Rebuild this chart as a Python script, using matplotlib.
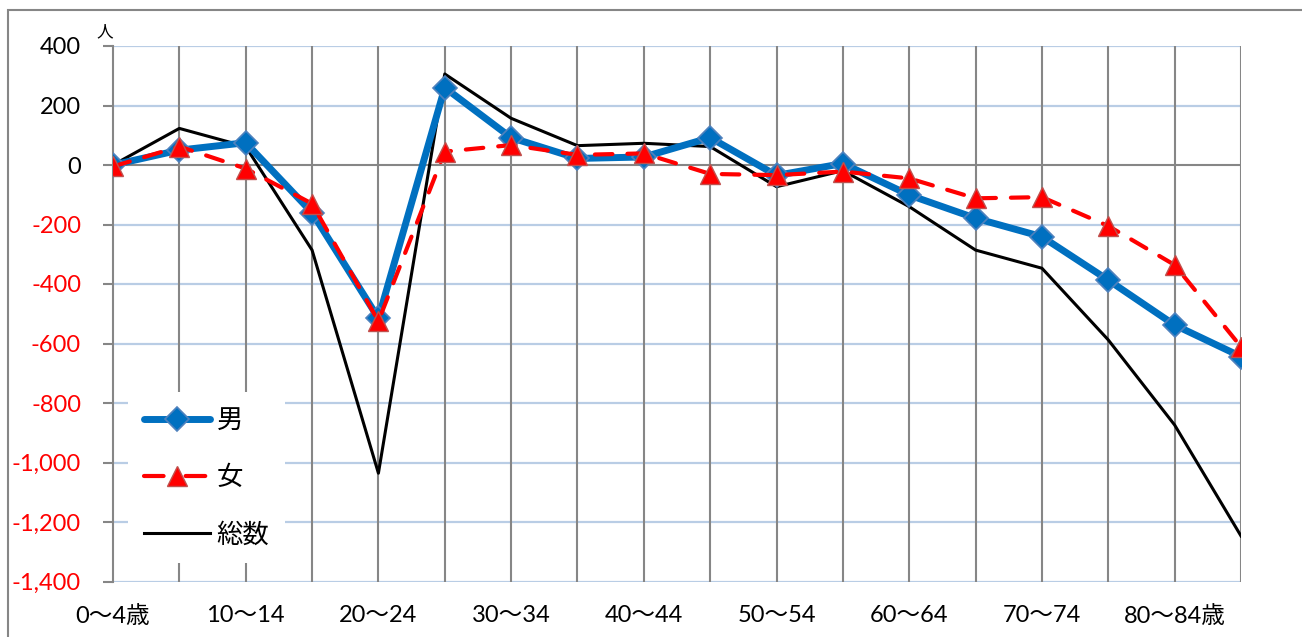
import matplotlib
matplotlib.use("Agg")
from matplotlib import pyplot as plt
from matplotlib import patches as mpatches
from matplotlib.ticker import FuncFormatter

plt.rcParams['font.family'] = ['Lato', 'Noto Sans CJK JP', 'DejaVu Sans']

# age groups (5-year steps)
age_groups = ["0～4歳", "5～9", "10～14", "15～19", "20～24", "25～29",
              "30～34", "35～39", "40～44", "45～49", "50～54", "55～59",
              "60～64", "65～69", "70～74", "75～79", "80～84歳", "85歳以上"]

male   = [0, 50, 75, -160, -515, 260, 92, 22, 27, 92, -35, 5,
          -101, -179, -241, -387, -538, -644]
female = [-5, 62, -12, -130, -525, 45, 67, 34, 39, -30, -34, -22,
          -45, -112, -108, -205, -336, -611]
total  = [0, 123, 62, -286, -1036, 306, 157, 65, 73, 62, -73, -19,
          -140, -286, -347, -588, -874, -1247]

y_ticks = list(range(-1400, 401, 200))

W, H = 1302, 637
fig = plt.figure(figsize=(W / 100, H / 100), dpi=100)
ax = fig.add_axes([113 / W, 1 - 581.5 / H, (1241 - 113) / W, (581.5 - 46) / H])

x = list(range(len(age_groups)))

# grid
for yv in y_ticks:
	if yv != 0:
		ax.axhline(yv, color='#b9cde5', lw=1.6, zorder=0)
for xv in x[1:]:
	ax.axvline(xv, color='#868686', lw=1.5, zorder=0.5)
ax.axhline(0, color='#868686', lw=1.5, zorder=0.6)

ax.plot(x, total, color='black', lw=2.2, zorder=3, label='総数')
ax.plot(x, female, color='#ff0000', lw=3.0, linestyle=(0, (4.2, 3.6)),
	dash_capstyle='round', marker='^', ms=15, mfc='#ff0000', mec='#c0504d',
	mew=1.0, zorder=4, label='女')
ax.plot(x, male, color='#0070c0', lw=5.0, solid_capstyle='round',
	marker='D', ms=12, mfc='#0070c0', mec='#4f81bd', mew=1.2,
	zorder=3.5, label='男')

ax.set_xlim(0, len(age_groups) - 1)
ax.set_ylim(-1400, 400)

ax.set_xticks(x[::2])
ax.set_xticklabels(age_groups[::2])
ax.set_yticks(y_ticks)
ax.yaxis.set_major_formatter(FuncFormatter(lambda v, p: f"{int(v):,}"))

ax.tick_params(axis='x', length=0, pad=17, labelsize=17)
ax.tick_params(axis='y', length=7, width=1.5, color='#868686', pad=16, labelsize=17)
for lbl, yv in zip(ax.get_yticklabels(), y_ticks):
	if yv < 0:
		lbl.set_color('#ff0000')

for s in ['top', 'right', 'bottom']:
	ax.spines[s].set_visible(False)
ax.spines['left'].set_color('#868686')
ax.spines['left'].set_linewidth(1.5)

# legend
handles, labels = ax.get_legend_handles_labels()
order = [2, 1, 0]
leg = ax.legend([handles[i] for i in order], [labels[i] for i in order],
	loc='upper left', bbox_to_anchor=(2 / 1128, 1 - (379 - 46) / 535.5),
	frameon=True, fancybox=False, facecolor='white', edgecolor='none',
	framealpha=1, fontsize=19, handlelength=2.5, labelspacing=1.22,
	numpoints=1, borderpad=0.6, handletextpad=0.25)
leg.set_zorder(5)
# dash - marker - dash look for the female entry
leg.get_lines()[1].set_linestyle((0, (4.7, 5.3)))

# unit label
fig.text(105 / W, 1 - 31 / H, '人', fontsize=12, ha='center', va='center')

# outer chart border
fig.patches.append(mpatches.Rectangle((8 / W, -0.1), 1.2, 1 - 10 / H + 0.1,
	transform=fig.transFigure, fill=False, edgecolor='#868686', lw=1.5))

fig.savefig('out.png', dpi=100)
